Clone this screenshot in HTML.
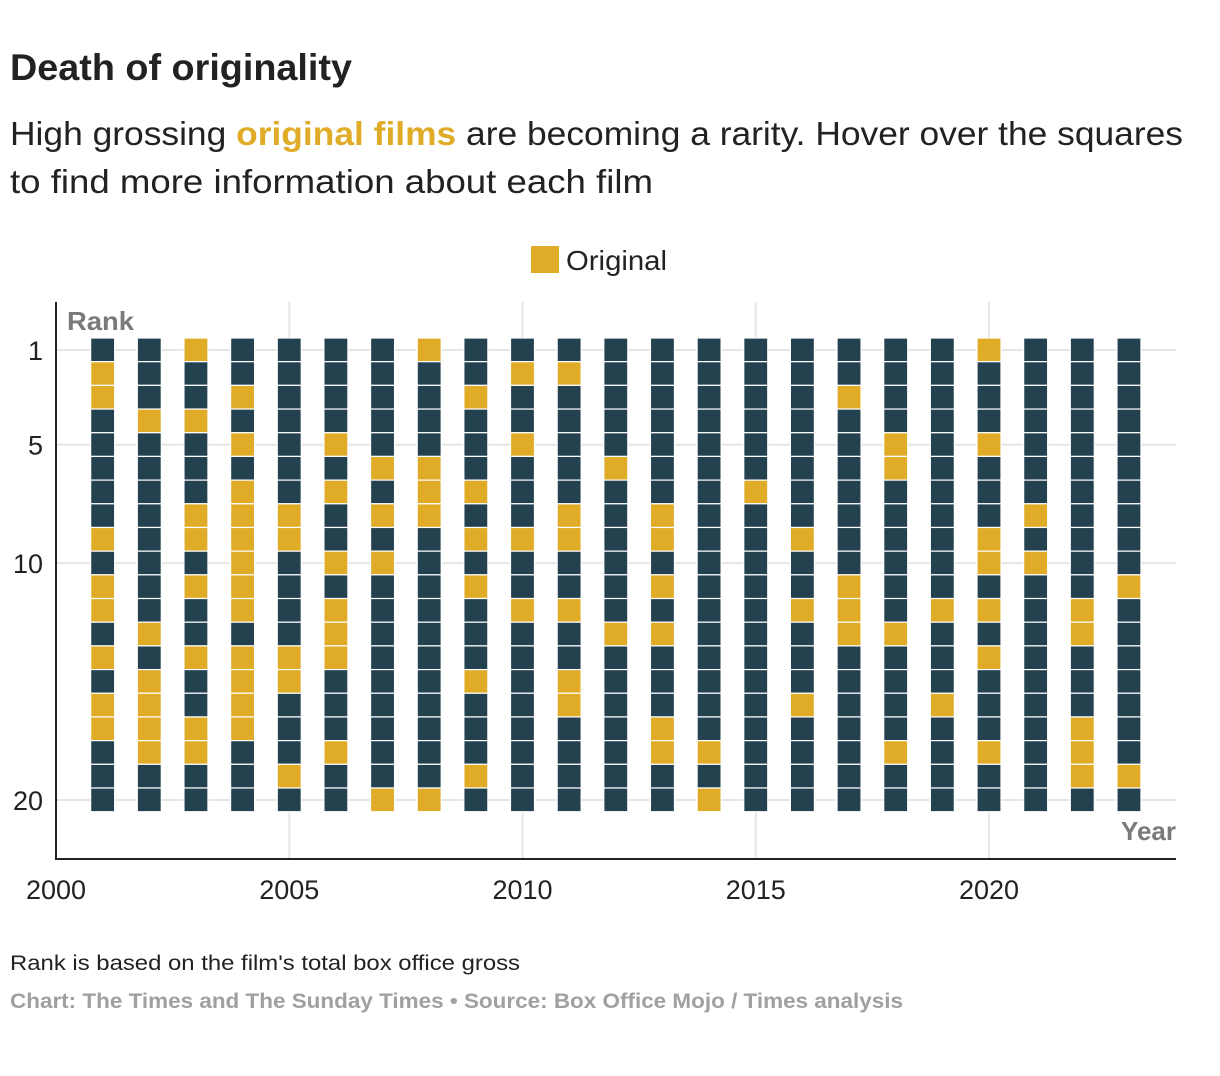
<!DOCTYPE html>
<html><head><meta charset="utf-8"><style>
body{margin:0;background:#fff;font-family:"Liberation Sans",sans-serif;}
svg{display:block}
</style></head><body>
<svg width="1220" height="1076" xmlns="http://www.w3.org/2000/svg">
<text x="10" y="80" font-size="37" font-weight="bold" fill="#222" textLength="342" lengthAdjust="spacingAndGlyphs">Death of originality</text>
<text x="10" y="145" font-size="33" fill="#222" textLength="1173" lengthAdjust="spacingAndGlyphs">High grossing <tspan fill="#e0ac28" font-weight="bold">original films</tspan> are becoming a rarity. Hover over the squares</text>
<text x="10" y="193" font-size="33" fill="#222" textLength="643" lengthAdjust="spacingAndGlyphs">to find more information about each film</text>
<rect x="531" y="246" width="28" height="27" fill="#e0ac28"/>
<text x="566" y="270" font-size="28" fill="#222" textLength="101" lengthAdjust="spacingAndGlyphs">Original</text>
<g id="grid"></g>
<g id="marks"></g>
<g id="axes"></g>
<text x="67" y="330" font-size="26" font-weight="bold" fill="#7a7a7a" textLength="67" lengthAdjust="spacingAndGlyphs">Rank</text>
<text x="1176" y="840" font-size="26" font-weight="bold" fill="#7a7a7a" text-anchor="end">Year</text>
<text x="10" y="970" font-size="21" fill="#222" textLength="510" lengthAdjust="spacingAndGlyphs">Rank is based on the film's total box office gross</text>
<text x="10" y="1008" font-size="21" fill="#a0a0a0" font-weight="bold" textLength="893" lengthAdjust="spacingAndGlyphs">Chart: The Times and The Sunday Times • Source: Box Office Mojo / Times analysis</text>
</svg>
<script>
const years = [2001,2002,2003,2004,2005,2006,2007,2008,2009,2010,2011,2012,2013,2014,2015,2016,2017,2018,2019,2020,2021,2022,2023];
const originalRanks = [
 [2,3,9,11,12,14,16,17],
 [4,13,15,16,17,18],
 [1,4,8,9,11,14,17,18],
 [3,5,7,8,9,10,11,12,14,15,16,17],
 [8,9,14,15,19],
 [5,7,10,12,13,14,18],
 [6,8,10,20],
 [1,6,7,8,20],
 [3,7,9,11,15,19],
 [2,5,9,12],
 [2,8,9,12,15,16],
 [6,13],
 [8,9,11,13,17,18],
 [18,20],
 [7],
 [9,12,16],
 [3,11,12,13],
 [5,6,13,18],
 [12,16],
 [1,5,9,10,12,14,18],
 [8,10],
 [12,13,17,18,19],
 [11,19]
];
const xTicks = [2000,2005,2010,2015,2020];
const yTicks = [1,5,10,20];
const NR = 20;
const NS = "http://www.w3.org/2000/svg";
function x(yr){return 56 + (yr-2000)*46.65;}
function y(r){return 350 + (r-1)*23.684;}
function mk(tag,attrs,parent){const e=document.createElementNS(NS,tag);for(const k in attrs)e.setAttribute(k,attrs[k]);parent.appendChild(e);return e;}
const grid=document.getElementById('grid'),marks=document.getElementById('marks'),axes=document.getElementById('axes');
xTicks.forEach(t=>{
  if(t>2000){const l=mk('line',{x1:x(t),x2:x(t),y1:302,y2:859,stroke:'#e6e6e6','stroke-width':2},grid);
  
  }
  const tx=mk('text',{x:x(t),y:899,'font-size':27,fill:'#222','text-anchor':'middle'},axes);
  tx.textContent=t;
  
  
});
yTicks.forEach(t=>{
  const l=mk('line',{x1:56,x2:1176,y1:y(t),y2:y(t),stroke:'#e6e6e6','stroke-width':2},grid);
  
  
  const tx=mk('text',{x:43,y:y(t)+10,'font-size':27,fill:'#222','text-anchor':'end'},axes);
  tx.textContent=t;
  
  
});
years.forEach((yr,i)=>{
  for(let r=1;r<=NR;r++){
    const orig=originalRanks[i].includes(r);
    const s=mk('rect',{x:x(yr)-12,y:y(r)-12,width:24,height:23.7,fill:orig?'#e0ac28':'#24414f',stroke:'#fff','stroke-width':1.2},marks);
    
    
  }
});
const ya=mk('line',{x1:56,x2:56,y1:302,y2:860,stroke:'#222','stroke-width':2},axes);


const xa=mk('line',{x1:55,x2:1176,y1:859,y2:859,stroke:'#222','stroke-width':2},axes);


</script>
</body></html>
